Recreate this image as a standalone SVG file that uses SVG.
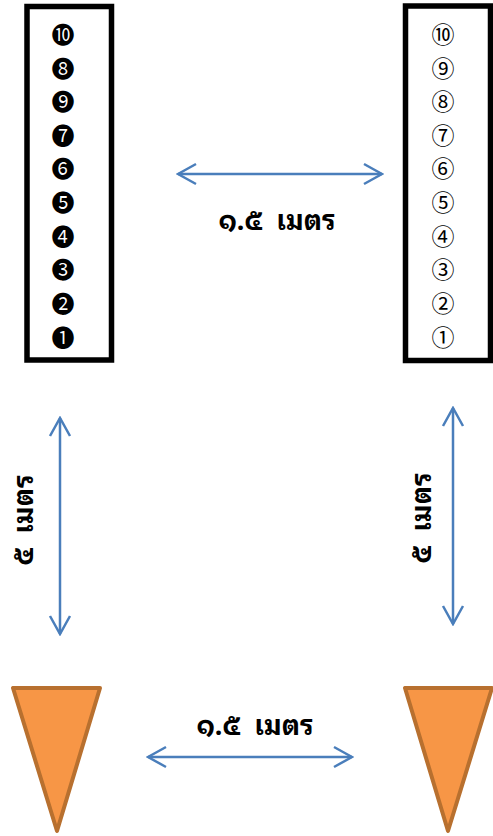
<svg xmlns="http://www.w3.org/2000/svg" width="493" height="836" viewBox="0 0 493 836">
<defs>
<style>
.box{fill:#fff;stroke:#000;stroke-width:5.5}
.cone{fill:#F79646;stroke:#B8702F;stroke-width:4;stroke-linejoin:round}
.conn line{stroke:#4A7EBB;stroke-width:2.5;fill:none}
.neg{font-family:"Noto Sans CJK JP","DejaVu Serif",serif;font-size:23px;text-anchor:middle;fill:#000}
.pos{font-family:"Noto Sans CJK JP","DejaVu Serif",serif;font-size:23px;text-anchor:middle;fill:#000}
.lbl{font-family:"Noto Sans Thai Looped","Noto Serif Thai","Loma","Garuda","Norasi","Kinnari","Tlwg Typist","Sawasdee","Noto Sans Thai",sans-serif;font-size:27px;font-weight:bold;text-anchor:middle;fill:#000}
</style>
<marker id="ah" viewBox="-20 -12 22 24" refX="0" refY="0" markerWidth="22" markerHeight="24" markerUnits="userSpaceOnUse" orient="auto-start-reverse">
<path d="M-18,-10 L0,0 L-18,10" fill="none" stroke="#4A7EBB" stroke-width="2.5"/>
</marker>
</defs>
<rect width="493" height="836" fill="#fff"/>
<g id="left-column">
<rect class="box" x="27" y="6.5" width="84.5" height="353.5"/>
<text class="neg" x="63" y="43">❿</text>
<text class="neg" x="63" y="77">❽</text>
<text class="neg" x="63" y="110">❾</text>
<text class="neg" x="63" y="144">❼</text>
<text class="neg" x="63" y="177">❻</text>
<text class="neg" x="63" y="211">❺</text>
<text class="neg" x="63" y="245">❹</text>
<text class="neg" x="63" y="278">❸</text>
<text class="neg" x="63" y="312">❷</text>
<text class="neg" x="63" y="346">❶</text>
</g>
<g id="right-column">
<rect class="box" x="405.5" y="6" width="85" height="354.5"/>
<text class="pos" x="443" y="43">⑩</text>
<text class="pos" x="443" y="77">⑨</text>
<text class="pos" x="443" y="110">⑧</text>
<text class="pos" x="443" y="144">⑦</text>
<text class="pos" x="443" y="177">⑥</text>
<text class="pos" x="443" y="211">⑤</text>
<text class="pos" x="443" y="245">④</text>
<text class="pos" x="443" y="278">③</text>
<text class="pos" x="443" y="312">②</text>
<text class="pos" x="443" y="346">①</text>
</g>
<g id="left-cone">
<polygon class="cone" points="13,688 100,688 57,831"/>
</g>
<g id="right-cone">
<polygon class="cone" points="405,688 492,688 448,831"/>
</g>
<g class="conn" id="connectors">
<line x1="178" y1="174" x2="382" y2="174" marker-start="url(#ah)" marker-end="url(#ah)"/>
<line x1="148" y1="757" x2="352" y2="757" marker-start="url(#ah)" marker-end="url(#ah)"/>
<line x1="60" y1="418" x2="60" y2="634" marker-start="url(#ah)" marker-end="url(#ah)"/>
<line x1="453" y1="408" x2="453" y2="624" marker-start="url(#ah)" marker-end="url(#ah)"/>
</g>
<g id="labels">
<text class="lbl" x="277" y="230" xml:space="preserve">๑.๕  เมตร</text>
<text class="lbl" x="255" y="735" xml:space="preserve">๑.๕  เมตร</text>
<text class="lbl" transform="translate(33,520) rotate(-90)" xml:space="preserve">๕  เมตร</text>
<text class="lbl" transform="translate(431,518) rotate(-90)" xml:space="preserve">๕  เมตร</text>
</g>
</svg>
